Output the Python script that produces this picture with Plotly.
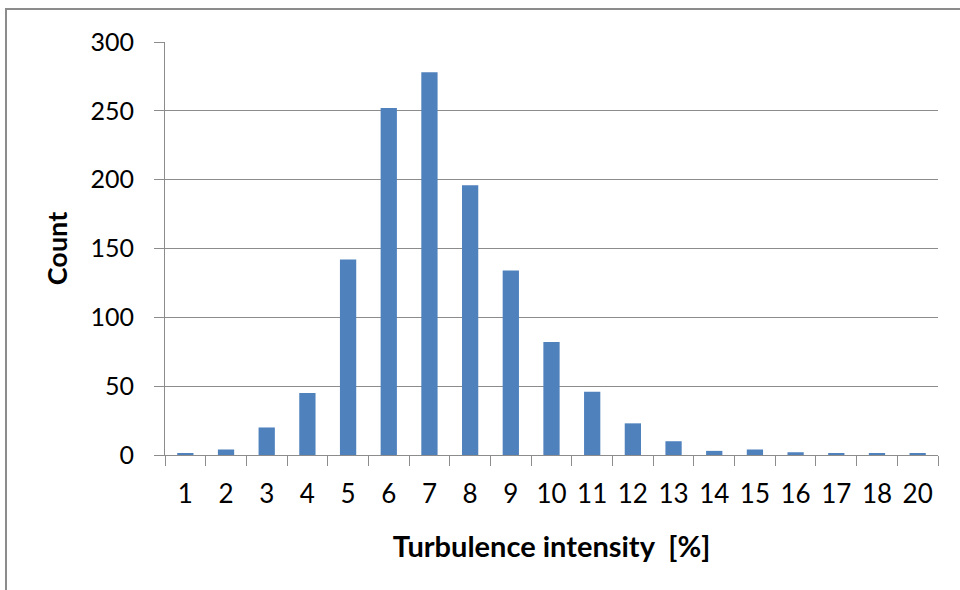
import plotly.graph_objects as go

categories = ["1", "2", "3", "4", "5", "6", "7", "8", "9", "10", "11", "12", "13", "14", "15", "16", "17", "18", "20"]
counts = [1, 4, 20, 45, 142, 252, 278, 196, 134, 82, 46, 23, 10, 3, 4, 2, 1, 1, 1]
y_ticks = [0, 50, 100, 150, 200, 250, 300]

fig = go.Figure()
fig.add_trace(go.Bar(x=categories, y=counts, marker=dict(color="#4F81BD", line=dict(width=0)), width=0.4))

font_family = "Lato, Open Sans, sans-serif"
fig.update_layout(
    width=960, height=590,
    margin=dict(l=165, r=22, t=42, b=135),
    paper_bgcolor="white", plot_bgcolor="white",
    showlegend=False,
    font=dict(family=font_family, color="black"),
    xaxis=dict(
        type="category",
        tickson="boundaries",
        ticks="outside", ticklen=10, tickcolor="#8c8c8c",
        showline=True, linecolor="#8c8c8c", linewidth=1,
        showgrid=False,
        ticklabelstandoff=16,
        tickfont=dict(size=26, family=font_family),
        title=dict(text="<b>Turbulence intensity  [%]</b>", font=dict(size=29, family=font_family), standoff=28),
    ),
    yaxis=dict(
        range=[0, 300],
        tickvals=y_ticks,
        ticks="outside", ticklen=10, tickcolor="#8c8c8c",
        showline=True, linecolor="#8c8c8c", linewidth=1,
        showgrid=True, gridcolor="#8c8c8c", gridwidth=1,
        zeroline=False,
        ticklabelstandoff=15,
        tickfont=dict(size=25, family=font_family),
        title=dict(text="<b>Count</b>", font=dict(size=27, family=font_family), standoff=15),
    ),
)
fig.add_shape(type="rect", xref="paper", yref="paper",
              x0=-0.2057, x1=1.2, y0=-0.5, y1=1.0799,
              line=dict(color="#8c8c8c", width=2), layer="below")
fig.write_html("out.html")
